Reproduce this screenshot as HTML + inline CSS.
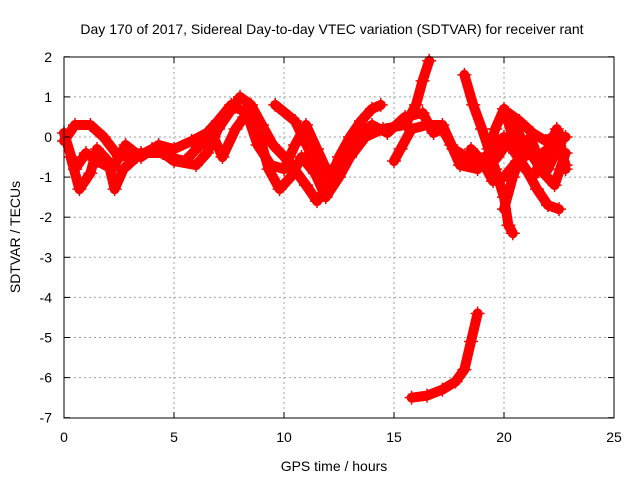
<!DOCTYPE html>
<html><head><meta charset="utf-8"><style>
body{margin:0;background:#fff}
svg{display:block;font-family:"Liberation Sans",sans-serif}
</style></head><body>
<svg id="chart" width="640" height="480">
<rect width="640" height="480" fill="#fff"/>
<text x="332" y="34" font-size="14" text-anchor="middle">Day 170 of 2017, Sidereal Day-to-day VTEC variation (SDTVAR) for receiver rant</text>
<text x="334" y="471" font-size="14" text-anchor="middle">GPS time / hours</text>
<text transform="translate(20,237) rotate(-90)" font-size="14" text-anchor="middle">SDTVAR / TECUs</text>
<g id="grid"></g><g id="marks"></g>
<rect x="64" y="57" width="550" height="361" fill="none" stroke="#000" stroke-width="1"/>
<g id="ticks"></g>
</svg>
<script>
const xTicks=[0,5,10,15,20,25];
const yTicks=[2,1,0,-1,-2,-3,-4,-5,-6,-7];
const trackA=[[0,-0.1],[0.5,0.3],[1.2,0.3],[1.8,0],[2.5,-0.5],[3.5,-0.4],[4.5,-0.4],[5,-0.6],[6,-0.7],[6.5,-0.4],[7,0.2],[7.5,0.6],[8,1.0],[8.5,0.8],[9,0.3],[9.5,-0.2],[10.2,-0.6],[11,-1.2],[11.5,-1.6],[12,-1.2],[12.5,-0.5],[13,0],[13.5,0.4],[14,0.7],[14.4,0.8]];
const trackB=[[0.3,-0.5],[0.7,-1.3],[1.2,-0.9],[1.5,-0.3],[2,-0.6],[2.3,-1.3],[2.7,-0.8],[3.3,-0.5],[4,-0.3],[4.8,-0.5],[5.5,-0.6],[6.2,-0.2],[6.8,0],[7.2,-0.5],[7.8,0.2],[8.2,0.5],[8.8,0.2],[9.3,-0.8],[9.8,-1.3],[10.3,-1],[10.8,-0.5],[11.4,-0.9],[11.9,-1.5],[12.5,-1],[13,-0.5],[13.7,0],[14.5,0.2],[15.5,0.3],[16,0.8],[16.3,1.4],[16.6,1.9]];
const trackC=[[0,0.1],[0.5,-0.8],[1,-0.4],[1.5,-0.6],[2.2,-0.8],[2.8,-0.2],[3.5,-0.5],[4.3,-0.2],[5,-0.3],[5.8,-0.1],[6.5,0.1],[7,0.4],[7.6,0.8],[8.3,0.6],[8.8,-0.2],[9.4,-0.7],[10,-0.8],[10.5,-0.2],[11,0.3],[11.5,-0.3],[12,-0.9],[12.6,-0.6],[13.2,0],[14,0.3],[14.7,0.1],[15.5,0.5],[16.3,0.6],[16.8,0.1],[17.2,0.2],[17.6,-0.2],[18,-0.7],[18.8,-0.8],[19.3,-0.4],[19.6,0.2],[20,0.7],[20.4,0],[20.8,-0.7],[21.3,-1],[21.8,-0.5],[22.3,-0.2],[22.8,0]];
const trackD=[[9.6,0.8],[10.5,0.4],[11.2,-0.4],[11.7,-1]];
const trackE=[[15,-0.6],[15.3,-0.3],[15.8,0.2],[16.5,0.3],[17.2,0.3],[17.7,-0.3],[18.3,-0.5],[18.8,-0.6],[19.2,-0.8],[19.7,-0.5],[20.2,-0.1]];
const trackF=[[18.2,1.55],[18.6,0.8],[19,0.2],[19.3,-0.3],[19.6,-0.8],[20,-1.5],[20.2,-2.2],[20.4,-2.4]];
const trackG=[[19.6,-0.2],[20,0],[20.5,-0.4],[21,-0.8],[21.5,-1.3],[22,-1.7],[22.5,-1.8]];
const trackH=[[20,-1.8],[20.4,-1.0],[20.8,-0.4],[21.2,0],[21.6,-0.6],[22,-0.8],[22.5,-0.2],[22.8,-0.7]];
const trackI=[[20.5,0.3],[21,-0.3],[21.5,-0.5],[22,-0.3],[22.4,0.2],[22.8,-0.8]];
const trackJ=[[15.8,-6.5],[16.5,-6.45],[17.2,-6.3],[17.8,-6.1],[18.2,-5.8],[18.5,-5.1],[18.8,-4.4]];
const trackK=[[18.5,-0.3],[19,-0.6],[19.5,-1.1],[20,-1.0],[20.6,-0.6],[21.2,-0.4],[21.8,-0.9],[22.3,-1.2],[22.8,-0.4]];
const trackL=[[20.2,0.6],[20.7,0.4],[21.3,0.1],[21.9,-0.1],[22.5,0.1]];
const tracks=[trackA,trackB,trackC,trackD,trackE,trackF,trackG,trackH,trackI,trackJ,trackK,trackL];
const NS="http://www.w3.org/2000/svg";
const X=h=>64+h*22, Y=v=>137-v*40.1;
const grid=document.getElementById('grid'),ticks=document.getElementById('ticks'),marks=document.getElementById('marks');
function mk(tag,attrs,parent){const e=document.createElementNS(NS,tag);for(const k in attrs)e.setAttribute(k,attrs[k]);parent.appendChild(e);return e;}
xTicks.forEach(t=>{
  if(t>0&&t<25){const g=mk('line',{x1:X(t),x2:X(t),y1:57,y2:418,stroke:'#a0a0a0','stroke-dasharray':'2,3'},grid);
  
  }
  mk('line',{x1:X(t),x2:X(t),y1:418,y2:412,stroke:'#000'},ticks);
  mk('line',{x1:X(t),x2:X(t),y1:57,y2:63,stroke:'#000'},ticks);
  const l=mk('text',{x:X(t),y:442,'font-size':14,'text-anchor':'middle'},ticks);l.textContent=t;
  
  
});
yTicks.forEach(t=>{
  if(t<2&&t>-7){const g=mk('line',{x1:64,x2:614,y1:Y(t),y2:Y(t),stroke:'#a0a0a0','stroke-dasharray':'2,3'},grid);
  
  }
  mk('line',{x1:64,x2:70,y1:Y(t),y2:Y(t),stroke:'#000'},ticks);
  mk('line',{x1:608,x2:614,y1:Y(t),y2:Y(t),stroke:'#000'},ticks);
  const l=mk('text',{x:52,y:Y(t)+5,'font-size':14,'text-anchor':'end'},ticks);l.textContent=t;
  
  
});
tracks.forEach(tr=>{
  const p=mk('polyline',{points:tr.map(d=>X(d[0])+','+Y(d[1])).join(' '),fill:'none',stroke:'#ff0000','stroke-width':10,'stroke-linejoin':'round','stroke-linecap':'round'},marks);
  
  
  tr.forEach(d=>{
    const m=mk('path',{d:`M${X(d[0])-7},${Y(d[1])}h14M${X(d[0])},${Y(d[1])-7}v14`,stroke:'#ff0000','stroke-width':1.5},marks);
    
    
  });
});
</script>
</body></html>
